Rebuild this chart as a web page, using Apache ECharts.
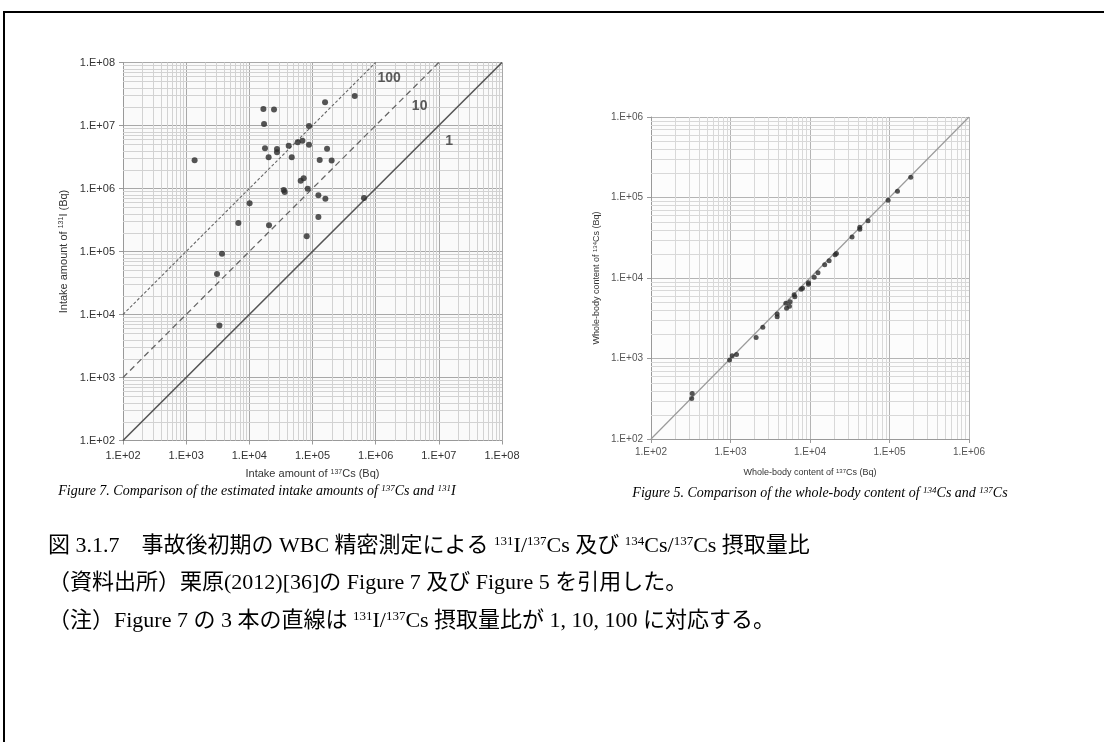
<!DOCTYPE html>
<html><head><meta charset="utf-8">
<script src="https://cdn.jsdelivr.net/npm/echarts@6/dist/echarts.min.js"></script>
<style>html,body{margin:0;padding:0;background:#fff}#c{width:1104px;height:742px}</style>
</head><body><div id="c"></div>
<script>
// ---- Figure 7 data: intake of 137Cs (x) vs 131I (y), Bq ----
const fig7Cs137 = [1360, 16700, 24600, 17100, 158000, 466000, 88000, 17700, 20200, 27400, 27400, 42000, 46900, 58300, 69200, 88000, 170000, 130000, 201000, 65000, 72600, 35000, 36300, 84000, 124000, 160000, 653000, 10100, 6710, 20500, 124000, 81000, 3690, 3080, 3360];
const fig7I131  = [2800000, 18300000, 17900000, 10600000, 23400000, 29500000, 9800000, 4350000, 3130000, 4240000, 3760000, 4790000, 3130000, 5420000, 5750000, 4970000, 4290000, 2840000, 2770000, 1330000, 1450000, 947000, 880000, 993000, 780000, 689000, 706000, 582000, 283000, 260000, 353000, 174000, 92000, 43900, 6710];
// ratio lines 131I/137Cs = 1, 10, 100
const ratio1X = [1e2, 1e8],  ratio1Y = [1e2, 1e8];
const ratio10X = [1e2, 1e7], ratio10Y = [1e3, 1e8];
const ratio100X = [1e2, 1e6], ratio100Y = [1e4, 1e8];
const ratioLabels = ['100', '10', '1'];
const ratioLabelX = [1.63e6, 4.97e6, 1.45e7];
const ratioLabelY = [5.75e7, 2.05e7, 5.73e6];

// ---- Figure 5 data: whole-body 137Cs (x) vs 134Cs (y), Bq ----
const fig5Cs137 = [185000, 126000, 96000, 53700, 42300, 42300, 33800, 21500, 20700, 17400, 15300, 12600, 11300, 9570, 9570, 8050, 7730, 6320, 6440, 5620, 4970, 5520, 5070, 3860, 3860, 2550, 2100, 1190, 1050, 973, 330, 325];
const fig5Cs134 = [179000, 120000, 92700, 51400, 42600, 40200, 32200, 20200, 19400, 16400, 14600, 11600, 10200, 8750, 8350, 7450, 7240, 6210, 5860, 5080, 4850, 4460, 4210, 3580, 3310, 2450, 1820, 1120, 1080, 955, 368, 319];
const identityX = [1e2, 1e6], identityY = [1e2, 1e6];

const leftRange = [1e2, 1e8];
const rightRange = [1e2, 1e6];

function minorValues(r) {
  const out = [];
  for (let e = Math.round(Math.log10(r[0])); e < Math.round(Math.log10(r[1])); e++)
    for (let k = 2; k <= 9; k++) out.push(k * Math.pow(10, e));
  return out;
}
function pairs(xs, ys) { return xs.map((x, i) => [x, ys[i]]); }
const fmt = v => '1.E+' + String(Math.round(Math.log10(v))).padStart(2, '0');

function gridSeries(idx, vals, orient, range, color) {
  return {
    type: 'custom', xAxisIndex: idx, yAxisIndex: idx, silent: true, z: 1,
    data: vals.map(v => orient === 'v' ? [v, range[0]] : [range[0], v]),
    renderItem: (p, api) => {
      let a, b;
      if (orient === 'v') { a = api.coord([api.value(0), range[0]]); b = api.coord([api.value(0), range[1]]); }
      else { a = api.coord([range[0], api.value(1)]); b = api.coord([range[1], api.value(1)]); }
      const sx = v => Math.round(v) + 0.5;
      return { type: 'line', shape: orient === 'v' ? { x1: sx(a[0]), y1: a[1], x2: sx(b[0]), y2: b[1] } : { x1: a[0], y1: sx(a[1]), x2: b[0], y2: sx(b[1]) },
        style: { stroke: color, lineWidth: 1 } };
    }
  };
}

const sans = 'Liberation Sans, Arial, sans-serif';
const serif = 'Liberation Serif, Noto Sans CJK JP, serif';
const jp = '"Liberation Serif", "Noto Sans CJK JP", serif';

function axis(range, idx, opts) {
  return Object.assign({
    type: 'log', logBase: 10, min: range[0], max: range[1], gridIndex: idx,
    splitNumber: Math.round(Math.log10(range[1] / range[0])),
    axisLine: { show: true, lineStyle: { color: '#999', width: 1 } },
    axisTick: { show: true, length: 4, lineStyle: { color: '#999' } },
    splitLine: { show: true, lineStyle: { color: idx === 0 ? '#a8a8a8' : '#b4b4b4', width: 1 } },
    axisLabel: { formatter: fmt, fontFamily: sans, fontSize: idx === 0 ? 11 : 10, color: idx === 0 ? '#333' : '#555', showMinLabel: true, showMaxLabel: true },
    nameLocation: 'middle',
    nameTextStyle: { fontFamily: sans, fontSize: idx === 0 ? 11 : 9, color: '#333' }
  }, opts);
}
const supRich = s => ({ sup: { fontFamily: sans, fontSize: s, verticalAlign: 'top', lineHeight: 10, color: '#333' } });

const chart = echarts.init(document.getElementById('c'), null, { renderer: 'canvas' });
const rich7 = { t: { fontFamily: serif, fontStyle: 'italic', fontSize: 14, color: '#4a3216' }, s: { fontFamily: serif, fontStyle: 'italic', fontSize: 9, color: '#4a3216', verticalAlign: 'top', lineHeight: 10 } };
const richJ = { t: { fontFamily: jp, fontSize: 22, color: '#000' }, s: { fontFamily: jp, fontSize: 13, color: '#000', verticalAlign: 'top', lineHeight: 12 } };

chart.setOption({
  animation: false,
  backgroundColor: '#fff',
  grid: [
    { left: 123, top: 62.5, width: 379, height: 378, show: true, backgroundColor: '#fafafa', borderWidth: 0 },
    { left: 651, top: 117, width: 318, height: 322, show: true, backgroundColor: '#fcfcfc', borderWidth: 0 }
  ],
  xAxis: [
    axis(leftRange, 0, { name: 'Intake amount of {sup|137}Cs (Bq)', nameGap: 28,
      axisLabel: { formatter: fmt, fontFamily: sans, fontSize: 11, color: '#333', margin: 10, showMinLabel: true, showMaxLabel: true },
      nameTextStyle: { fontFamily: sans, fontSize: 11, color: '#333', rich: supRich(7) } }),
    axis(rightRange, 1, { name: 'Whole-body content of {sup|137}Cs (Bq)', nameGap: 29, nameTextStyle: { fontFamily: sans, fontSize: 9, color: '#333', rich: supRich(6) } })
  ],
  yAxis: [
    axis(leftRange, 0, { name: 'Intake amount of {sup|131}I (Bq)', nameGap: 54, nameRotate: 90, nameTextStyle: { fontFamily: sans, fontSize: 11, color: '#333', rich: supRich(7) } }),
    axis(rightRange, 1, { name: 'Whole-body content of {sup|134}Cs (Bq)', nameGap: 49, nameRotate: 90, nameTextStyle: { fontFamily: sans, fontSize: 9, color: '#333', rich: supRich(6) } })
  ],
  series: [
    gridSeries(0, minorValues(leftRange), 'v', leftRange, '#d2d2d2'),
    gridSeries(0, minorValues(leftRange), 'h', leftRange, '#d2d2d2'),
    gridSeries(1, minorValues(rightRange), 'v', rightRange, '#d8d8d8'),
    gridSeries(1, minorValues(rightRange), 'h', rightRange, '#d8d8d8'),
    { type: 'line', xAxisIndex: 0, yAxisIndex: 0, data: pairs(ratio1X, ratio1Y), symbol: 'none', z: 3, lineStyle: { color: '#555', width: 1.6, type: 'solid' } },
    { type: 'line', xAxisIndex: 0, yAxisIndex: 0, data: pairs(ratio10X, ratio10Y), symbol: 'none', z: 3, lineStyle: { color: '#666', width: 1.3, type: [6, 4] } },
    { type: 'line', xAxisIndex: 0, yAxisIndex: 0, data: pairs(ratio100X, ratio100Y), symbol: 'none', z: 3, lineStyle: { color: '#666', width: 1.1, type: [3, 2] } },
    { type: 'scatter', xAxisIndex: 0, yAxisIndex: 0, symbolSize: 0, z: 4, silent: true,
      data: ratioLabels.map((t, i) => ({ name: t, value: [ratioLabelX[i], ratioLabelY[i]] })),
      label: { show: true, position: 'inside', formatter: p => p.name, fontFamily: sans, fontSize: 14, fontWeight: 'bold', color: '#333' } },
    { type: 'scatter', xAxisIndex: 0, yAxisIndex: 0, data: pairs(fig7Cs137, fig7I131), symbol: 'circle', symbolSize: 6, z: 5, itemStyle: { color: '#2b2b2b' } },
    { type: 'line', xAxisIndex: 1, yAxisIndex: 1, data: pairs(identityX, identityY), symbol: 'none', z: 3, lineStyle: { color: '#9a9a9a', width: 1.2 } },
    { type: 'scatter', xAxisIndex: 1, yAxisIndex: 1, data: pairs(fig5Cs137, fig5Cs134), symbol: 'circle', symbolSize: 5, z: 5, itemStyle: { color: '#2b2b2b' } }
  ],
  graphic: [
    { type: 'line', shape: { x1: 3, y1: 12, x2: 1104, y2: 12 }, style: { stroke: '#000', lineWidth: 2 } },
    { type: 'line', shape: { x1: 4, y1: 11, x2: 4, y2: 742 }, style: { stroke: '#000', lineWidth: 2 } },
    { type: 'text', x: 257, y: 491, style: { text: '{t|Figure 7. Comparison of the estimated intake amounts of }{s|137}{t|Cs and }{s|131}{t|I}', rich: rich7, align: 'center', verticalAlign: 'middle' } },
    { type: 'text', x: 820, y: 493, style: { text: '{t|Figure 5. Comparison of the whole-body content of }{s|134}{t|Cs and }{s|137}{t|Cs}', rich: rich7, align: 'center', verticalAlign: 'middle' } },
    { type: 'text', x: 48, y: 546, style: { text: '{t|図 3.1.7　事故後初期の WBC 精密測定による }{s|131}{t|I/}{s|137}{t|Cs 及び }{s|134}{t|Cs/}{s|137}{t|Cs 摂取量比}', rich: richJ, align: 'left', verticalAlign: 'middle' } },
    { type: 'text', x: 48, y: 583, style: { text: '{t|（資料出所）栗原(2012)[36]の Figure 7 及び Figure 5 を引用した。}', rich: richJ, align: 'left', verticalAlign: 'middle' } },
    { type: 'text', x: 48, y: 621, style: { text: '{t|（注）Figure 7 の 3 本の直線は }{s|131}{t|I/}{s|137}{t|Cs 摂取量比が 1, 10, 100 に対応する。}', rich: richJ, align: 'left', verticalAlign: 'middle' } }
  ]
});
</script></body></html>
